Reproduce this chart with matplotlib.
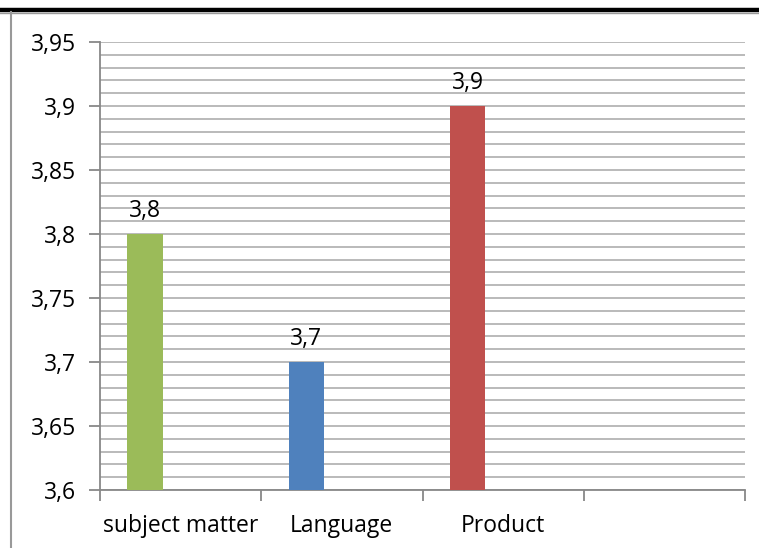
import matplotlib
matplotlib.use("Agg")
import matplotlib.pyplot as plt
from matplotlib.lines import Line2D
from matplotlib.ticker import MultipleLocator, FuncFormatter

# ── Data ───────────────────────────────────────────────────────────────────
categories = ["subject matter", "Language", "Product", ""]
values     = [3.8, 3.7, 3.9]
bar_colors = ["#9BBB59", "#4F81BD", "#C0504D"]

FS = 16.5
plt.rcParams["font.family"] = ["Open Sans", "DejaVu Sans"]

fig = plt.figure(figsize=(7.59, 5.48), dpi=100)
ax = fig.add_axes([100 / 759, 1 - 490 / 548, 645 / 759, 448 / 548])

x = [i + 0.28 for i in range(len(values))]
bars = ax.bar(x, [v - 3.6 for v in values], bottom=3.6, width=0.22,
              color=bar_colors, zorder=3)
for xi, v in zip(x, values):
    ax.annotate(f"{v:.1f}".replace(".", ","), (xi, v), xytext=(0, 8),
                textcoords="offset points", ha="center", va="bottom",
                fontsize=FS)

ax.set_xlim(0, len(categories))
ax.set_ylim(3.6, 3.95)
ax.yaxis.set_major_locator(MultipleLocator(0.05))
ax.yaxis.set_minor_locator(MultipleLocator(0.01))
ax.yaxis.set_major_formatter(FuncFormatter(
    lambda v, p: f"{v:.2f}".rstrip("0").rstrip(".").replace(".", ",")))
ax.grid(True, which="both", axis="y", color="#B4B4B4", linewidth=1.3, zorder=0)

ax.set_xticks(range(len(categories) + 1))
ax.set_xticklabels([])
ax.set_xticks([i + 0.5 for i in range(len(categories))], minor=True)
ax.set_xticklabels(categories, minor=True, fontsize=FS)
ax.tick_params(axis="x", which="minor", length=0, pad=17)
ax.tick_params(axis="x", which="major", length=8, width=1.3, color="#888888")
ax.tick_params(axis="y", which="major", length=8, width=1.3, color="#888888",
               labelsize=FS, pad=9)
ax.tick_params(axis="y", which="minor", length=0)

for s in ["top", "right"]:
    ax.spines[s].set_visible(False)
for s in ["left", "bottom"]:
    ax.spines[s].set_color("#888888")
    ax.spines[s].set_linewidth(1.3)

# chart frame: thick top rule and grey left border
fig.add_artist(Line2D([0, 758 / 759], [1 - 10 / 548] * 2, color="black",
                      linewidth=3.2, transform=fig.transFigure))
fig.add_artist(Line2D([0, 758 / 759], [1 - 12.5 / 548] * 2, color="#999999",
                      linewidth=1, transform=fig.transFigure))
fig.add_artist(Line2D([11 / 759] * 2, [0, 1 - 12 / 548], color="#999999",
                      linewidth=1.5, transform=fig.transFigure))

fig.savefig("out.png", dpi=100)
